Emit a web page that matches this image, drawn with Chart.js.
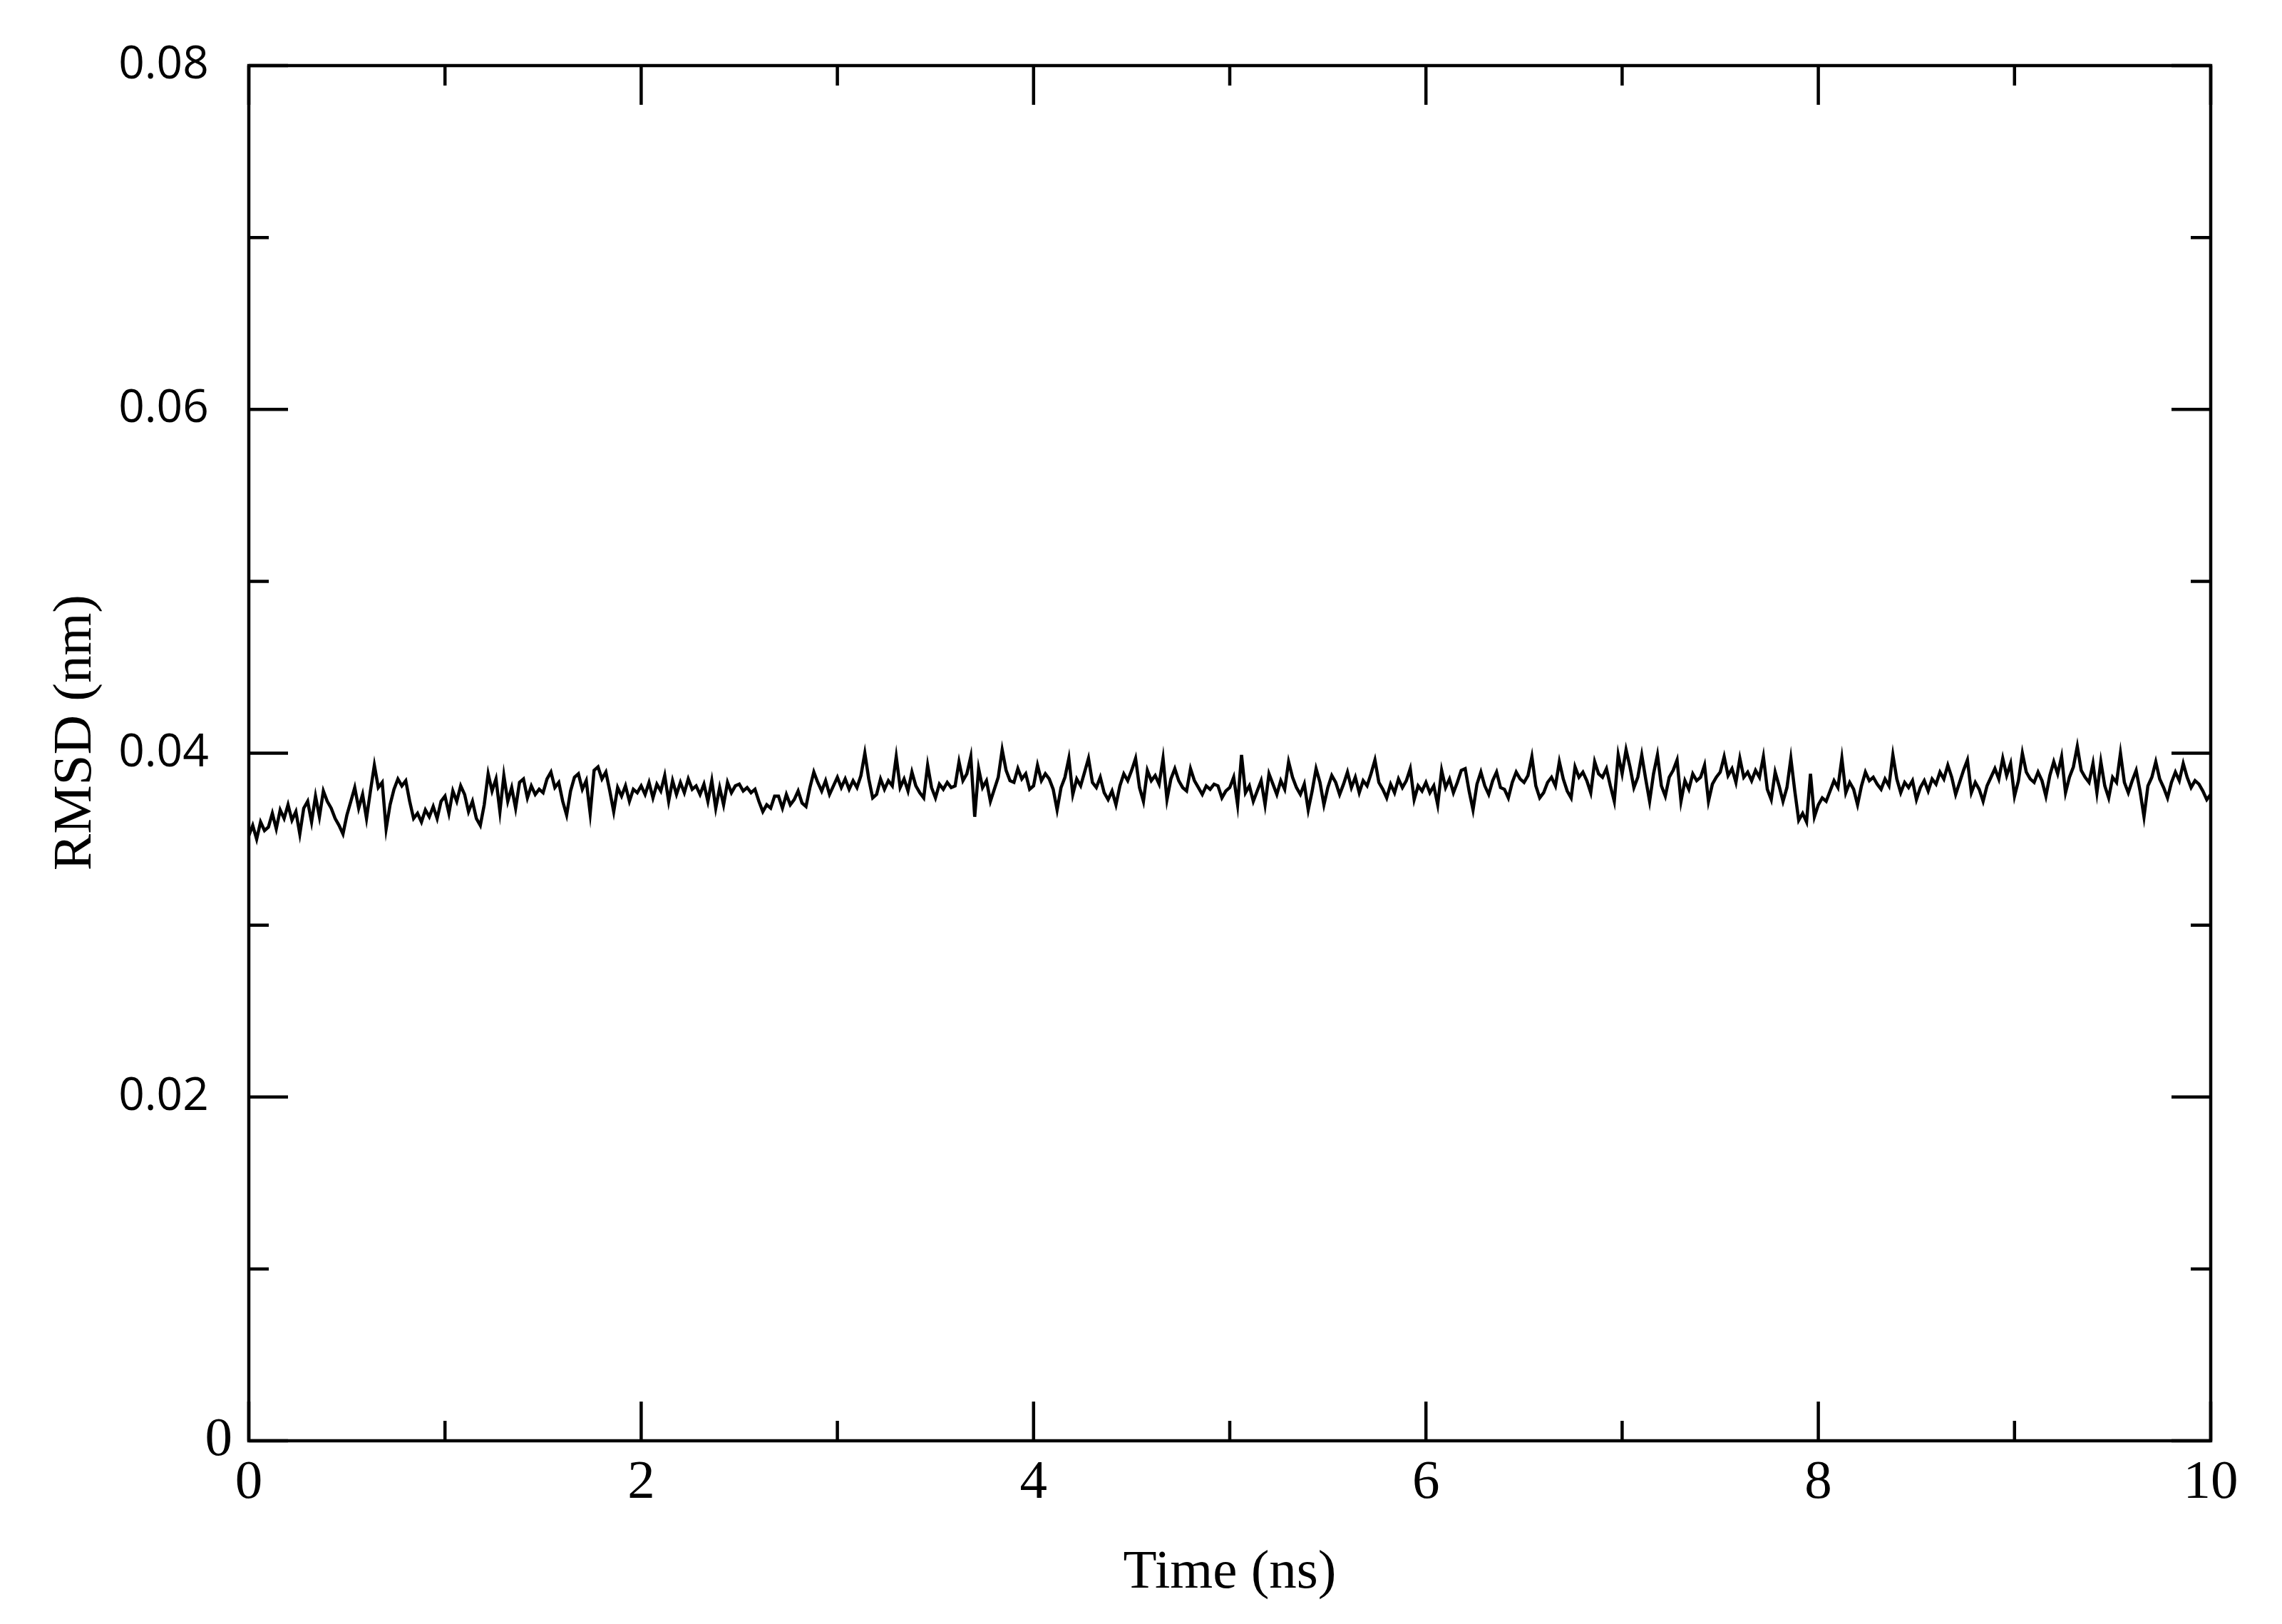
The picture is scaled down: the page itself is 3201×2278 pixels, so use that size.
<!DOCTYPE html>
<html>
<head>
<meta charset="utf-8">
<title>RMSD</title>
<script src="https://cdn.jsdelivr.net/npm/chart.js@4.4.1/dist/chart.umd.min.js"></script>
<style>
  html, body { margin: 0; padding: 0; background: #fff; }
  .chart-box { width: 3201px; height: 2278px; }
</style>
</head>
<body>
<div class="chart-box"><canvas id="rmsdChart"></canvas></div>
<script>
// one frame every 0.02 ns
const rmsd = [
    0.0352, 0.0358, 0.0350, 0.0360, 0.0355, 0.0357, 0.0365, 0.0356, 0.0367, 0.0362,
    0.0370, 0.0361, 0.0366, 0.0353, 0.0368, 0.0372, 0.0360, 0.0375, 0.0363, 0.0378,
    0.0372, 0.0368, 0.0362, 0.0358, 0.0353, 0.0364, 0.0372, 0.0380, 0.0368, 0.0376,
    0.0362, 0.0378, 0.0393, 0.0380, 0.0383, 0.0356, 0.0370, 0.0379, 0.0385, 0.0381,
    0.0384, 0.0372, 0.0362, 0.0365, 0.0360, 0.0367, 0.0363, 0.0369, 0.0362, 0.0372,
    0.0375, 0.0365, 0.0378, 0.0372, 0.0381, 0.0376, 0.0366, 0.0372, 0.0362, 0.0358,
    0.0370, 0.0388, 0.0378, 0.0385, 0.0366, 0.0387, 0.0372, 0.0380, 0.0368, 0.0383,
    0.0385, 0.0374, 0.0381, 0.0376, 0.0379, 0.0377, 0.0385, 0.0389, 0.0380, 0.0383,
    0.0372, 0.0364, 0.0378, 0.0386, 0.0388, 0.0379, 0.0384, 0.0365, 0.0390, 0.0392,
    0.0385, 0.0389, 0.0378, 0.0366, 0.0380, 0.0375, 0.0381, 0.0372, 0.0379, 0.0377,
    0.0381, 0.0376, 0.0383, 0.0374, 0.0382, 0.0378, 0.0387, 0.0372, 0.0384, 0.0376,
    0.0383, 0.0377, 0.0385, 0.0379, 0.0381, 0.0376, 0.0382, 0.0372, 0.0384, 0.0368,
    0.0380, 0.0370, 0.0383, 0.0377, 0.0381, 0.0382, 0.0378, 0.0380, 0.0377, 0.0379,
    0.0372, 0.0366, 0.0370, 0.0368, 0.0375, 0.0375, 0.0368, 0.0376, 0.0370, 0.0373,
    0.0378, 0.0371, 0.0369, 0.0380, 0.0389, 0.0383, 0.0378, 0.0384, 0.0376, 0.0381,
    0.0386, 0.0380, 0.0385, 0.0379, 0.0384, 0.0380, 0.0387, 0.0400, 0.0385, 0.0374,
    0.0376, 0.0385, 0.0379, 0.0384, 0.0381, 0.0398, 0.0380, 0.0385, 0.0378, 0.0389,
    0.0381, 0.0377, 0.0374, 0.0393, 0.0380, 0.0374, 0.0382, 0.0379, 0.0383, 0.0380,
    0.0381, 0.0395, 0.0384, 0.0388, 0.0398, 0.0363, 0.0391, 0.0380, 0.0384, 0.0372,
    0.0379, 0.0386, 0.0402, 0.0390, 0.0384, 0.0383, 0.0391, 0.0385, 0.0388, 0.0379,
    0.0381, 0.0393, 0.0384, 0.0388, 0.0385, 0.0379, 0.0367, 0.0380, 0.0386, 0.0397,
    0.0376, 0.0385, 0.0381, 0.0389, 0.0397, 0.0383, 0.0380, 0.0386, 0.0377, 0.0373,
    0.0378, 0.0370, 0.0381, 0.0388, 0.0384, 0.0390, 0.0397, 0.0380, 0.0372, 0.0390,
    0.0384, 0.0387, 0.0382, 0.0397, 0.0373, 0.0385, 0.0391, 0.0384, 0.0380, 0.0378,
    0.0391, 0.0384, 0.0380, 0.0376, 0.0381, 0.0379, 0.0382, 0.0381, 0.0374, 0.0378,
    0.0380, 0.0386, 0.0370, 0.0399, 0.0377, 0.0381, 0.0372, 0.0378, 0.0384, 0.0370,
    0.0388, 0.0382, 0.0376, 0.0384, 0.0379, 0.0395, 0.0386, 0.0380, 0.0376, 0.0382,
    0.0367, 0.0378, 0.0391, 0.0383, 0.0370, 0.0380, 0.0387, 0.0383, 0.0376, 0.0382,
    0.0389, 0.0380, 0.0386, 0.0377, 0.0384, 0.0381, 0.0388, 0.0396, 0.0383, 0.0379,
    0.0374, 0.0382, 0.0377, 0.0385, 0.0380, 0.0384, 0.0391, 0.0373, 0.0381, 0.0378,
    0.0383, 0.0377, 0.0381, 0.0370, 0.0390, 0.0380, 0.0385, 0.0377, 0.0383, 0.0390,
    0.0391, 0.0378, 0.0367, 0.0382, 0.0389, 0.0381, 0.0376, 0.0384, 0.0389, 0.0380,
    0.0379, 0.0374, 0.0383, 0.0389, 0.0385, 0.0383, 0.0387, 0.0398, 0.0381, 0.0374,
    0.0377, 0.0383, 0.0386, 0.0381, 0.0395, 0.0385, 0.0378, 0.0374, 0.0392, 0.0386,
    0.0389, 0.0384, 0.0377, 0.0395, 0.0388, 0.0386, 0.0391, 0.0381, 0.0372, 0.0399,
    0.0388, 0.0402, 0.0392, 0.0380, 0.0386, 0.0399, 0.0385, 0.0372, 0.0388, 0.0399,
    0.0381, 0.0375, 0.0386, 0.0390, 0.0396, 0.0372, 0.0384, 0.0379, 0.0388, 0.0384,
    0.0386, 0.0393, 0.0372, 0.0382, 0.0386, 0.0389, 0.0398, 0.0387, 0.0391, 0.0383,
    0.0397, 0.0386, 0.0389, 0.0384, 0.0390, 0.0386, 0.0398, 0.0379, 0.0373, 0.0389,
    0.0381, 0.0372, 0.0380, 0.0397, 0.0378, 0.0361, 0.0365, 0.0360, 0.0388, 0.0363,
    0.0370, 0.0374, 0.0372, 0.0378, 0.0384, 0.0380, 0.0397, 0.0377, 0.0383, 0.0379,
    0.0370, 0.0381, 0.0389, 0.0384, 0.0386, 0.0382, 0.0379, 0.0385, 0.0381, 0.0399,
    0.0385, 0.0377, 0.0383, 0.0380, 0.0384, 0.0373, 0.0380, 0.0384, 0.0378, 0.0385,
    0.0382, 0.0389, 0.0385, 0.0393, 0.0386, 0.0376, 0.0383, 0.0390, 0.0396, 0.0377,
    0.0383, 0.0379, 0.0372, 0.0381, 0.0386, 0.0391, 0.0385, 0.0397, 0.0387, 0.0394,
    0.0375, 0.0384, 0.0400, 0.0389, 0.0385, 0.0383, 0.0389, 0.0384, 0.0375, 0.0387,
    0.0395, 0.0388, 0.0398, 0.0377, 0.0386, 0.0392, 0.0404, 0.0390, 0.0386, 0.0383,
    0.0394, 0.0377, 0.0395, 0.0381, 0.0374, 0.0386, 0.0383, 0.0400, 0.0383, 0.0377,
    0.0384, 0.0390, 0.0378, 0.0363, 0.0381, 0.0386, 0.0395, 0.0385, 0.0380, 0.0374,
    0.0383, 0.0389, 0.0384, 0.0394, 0.0386, 0.0380, 0.0384, 0.0382, 0.0378, 0.0373,
    0.0376
];

const xMajorTicks = [0, 2, 4, 6, 8, 10];
const xMinorTicks = [1, 3, 5, 7, 9];
const xTickLabels = ["0", "2", "4", "6", "8", "10"];

const yMajorTicks = [0, 0.02, 0.04, 0.06, 0.08];
const yMinorTicks = [0.01, 0.03, 0.05, 0.07];
const yTickLabels = ["0", "0.02", "0.04", "0.06", "0.08"];

const points = rmsd.map((v, i) => ({ x: (i * 2) / 100, y: v }));

const serifFont = { family: "'Liberation Serif', 'Times New Roman', serif", size: 77 };
const sansFont = { family: "'Open Sans', 'Noto Sans', sans-serif", size: 64 };

// box round the plot with inward ticks on all four sides
const frameTicks = {
    id: "frameTicks",
    afterDatasetsDraw(chart) {
        const { ctx, chartArea: a, scales } = chart;
        const x = scales.x;
        const y = scales.y;
        ctx.save();
        ctx.strokeStyle = "#000";
        ctx.lineWidth = 4.5;
        ctx.beginPath();
        const tickX = (v, len) => {
            const px = x.getPixelForValue(v);
            ctx.moveTo(px, a.bottom);
            ctx.lineTo(px, a.bottom - len);
            ctx.moveTo(px, a.top);
            ctx.lineTo(px, a.top + len);
        };
        const tickY = (v, len) => {
            const py = y.getPixelForValue(v);
            ctx.moveTo(a.left, py);
            ctx.lineTo(a.left + len, py);
            ctx.moveTo(a.right, py);
            ctx.lineTo(a.right - len, py);
        };
        xMajorTicks.forEach((v) => tickX(v, 55));
        xMinorTicks.forEach((v) => tickX(v, 28));
        yMajorTicks.forEach((v) => tickY(v, 55));
        yMinorTicks.forEach((v) => tickY(v, 28));
        ctx.stroke();
        ctx.strokeRect(a.left, a.top, a.right - a.left, a.bottom - a.top);
        ctx.restore();
    },
};

const ctx = document.getElementById("rmsdChart").getContext("2d");
const rmsdChart = new Chart(ctx, {
    type: "line",
    data: {
        datasets: [
            {
                data: points,
                borderColor: "#000",
                borderWidth: 4.5,
                pointRadius: 0,
                tension: 0,
                fill: false,
            },
        ],
    },
    options: {
        responsive: true,
        maintainAspectRatio: false,
        animation: false,
        layout: { padding: { top: 92, right: 100, bottom: 0, left: 0 } },
        plugins: {
            legend: { display: false },
            tooltip: { enabled: false },
        },
        scales: {
            x: {
                type: "linear",
                min: 0,
                max: 10,
                grid: { display: false, drawTicks: false },
                border: { display: false },
                afterBuildTicks: (s) => {
                    s.ticks = xMajorTicks.map((v) => ({ value: v }));
                },
                afterFit: (s) => {
                    s.height = 257;
                },
                ticks: {
                    autoSkip: false,
                    maxRotation: 0,
                    padding: 14,
                    color: "#000",
                    font: serifFont,
                    callback: (value, index) => xTickLabels[index],
                },
                title: {
                    display: true,
                    text: "Time (ns)",
                    color: "#000",
                    font: serifFont,
                    padding: { top: 0, bottom: 25 },
                },
            },
            y: {
                type: "linear",
                min: 0,
                max: 0.08,
                grid: { display: false, drawTicks: false },
                border: { display: false },
                afterBuildTicks: (s) => {
                    s.ticks = yMajorTicks.map((v) => ({ value: v }));
                },
                afterFit: (s) => {
                    s.width = 349;
                },
                ticks: {
                    autoSkip: false,
                    padding: 23,
                    color: "#000",
                    font: (c) => (c.tick && c.tick.value === 0 ? serifFont : sansFont),
                    // the zero sits closer to the axis than the other labels
                    callback: (value, index) => yTickLabels[index] + (value === 0 ? "" : "  "),
                },
                title: {
                    display: true,
                    text: "   RMSD (nm)",
                    color: "#000",
                    font: serifFont,
                    padding: { top: 61, bottom: 0 },
                },
            },
        },
    },
    plugins: [frameTicks],
});
</script>
</body>
</html>
